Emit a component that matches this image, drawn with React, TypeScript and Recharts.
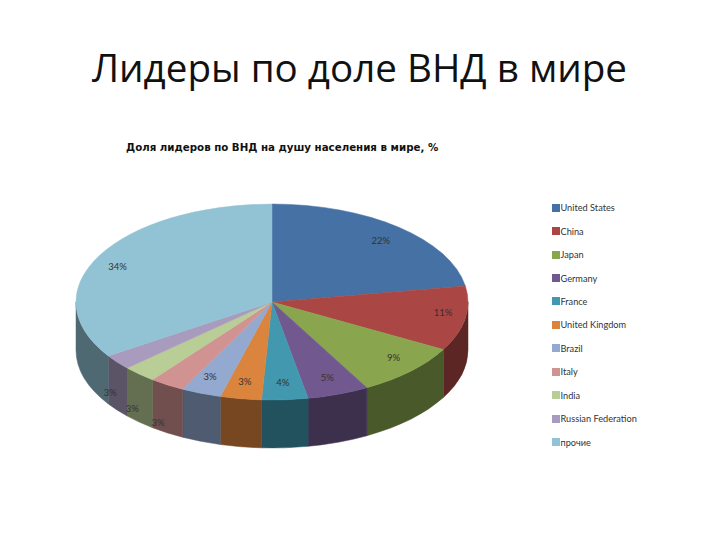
import { PieChart, Pie, Legend } from "recharts";

const categories = [
  "United States",
  "China",
  "Japan",
  "Germany",
  "France",
  "United Kingdom",
  "Brazil",
  "Italy",
  "India",
  "Russian Federation",
  "прочие",
];
const shares = [22.4, 10.7, 8.9, 5.1, 3.8, 3.4, 3.3, 2.9, 2.8, 2.5, 34.3];
const shareLabels = ["22%", "11%", "9%", "5%", "4%", "3%", "3%", "3%", "3%", "3%", "34%"];
const colors = [
  "#4571a5",
  "#aa4643",
  "#89a54e",
  "#71588f",
  "#4198af",
  "#db843d",
  "#93a9cf",
  "#d19392",
  "#b9cd96",
  "#a99bbd",
  "#92c3d4",
];

// label offset from the rim point of each slice, Excel left them all over the place
const labelNudge = [
  [-18, 13],
  [-22, -6],
  [-17, -14],
  [-11, -17],
  [-2, -17],
  [4, -17],
  [9, -17],
  [-9, 38],
  [-7, 34],
  [-7, 30],
  [18, 11],
];

const TILT = 0.5;
const DEPTH = 48;
const RAD = Math.PI / 180;

const chartData = categories.map((name, i) => ({
  name,
  value: shares[i],
  fill: colors[i],
}));

function darken(hex: string) {
  const n = parseInt(hex.slice(1), 16);
  const c = [n >> 16, (n >> 8) & 255, n & 255].map((v) => Math.round(v * 0.54));
  return `rgb(${c.join(",")})`;
}

function rim(cx: number, cy: number, r: number, deg: number) {
  return [cx + r * Math.cos(deg * RAD), cy - r * TILT * Math.sin(deg * RAD)];
}

// recharts gives circular sectors, squash them and add the wall for the 3d look
function Slice3D(props: any) {
  const { cx, cy, outerRadius: r, startAngle, endAngle, fill } = props;
  const hi = Math.max(startAngle, endAngle);
  const lo = Math.min(startAngle, endAngle);
  const ry = r * TILT;
  const [x0, y0] = rim(cx, cy, r, hi);
  const [x1, y1] = rim(cx, cy, r, lo);
  const large = hi - lo > 180 ? 1 : 0;
  const top = `M${cx},${cy} L${x0},${y0} A${r},${ry} 0 ${large} 1 ${x1},${y1} Z`;

  // only the front half of the rim (0..-180 deg, also -360..-540 after the wrap) shows a wall
  const spans: [number, number][] = [];
  for (const shift of [0, 360]) {
    const a = Math.min(hi + shift, 0);
    const b = Math.max(lo + shift, -180);
    if (a > b) spans.push([a, b]);
  }

  return (
    <g>
      {spans.map(([a, b], i) => {
        const [ax, ay] = rim(cx, cy, r, a);
        const [bx, by] = rim(cx, cy, r, b);
        return (
          <path
            key={i}
            d={`M${ax},${ay} A${r},${ry} 0 0 1 ${bx},${by} L${bx},${by + DEPTH} A${r},${ry} 0 0 0 ${ax},${ay + DEPTH} Z`}
            fill={darken(fill)}
            stroke={darken(fill)}
            strokeWidth={0.5}
          />
        );
      })}
      <path d={top} fill={fill} stroke={fill} strokeWidth={0.5} />
    </g>
  );
}

function SliceLabel(props: any) {
  const { cx, cy, outerRadius, midAngle, index } = props;
  const [x, y] = rim(cx, cy, outerRadius, midAngle);
  return (
    <text
      x={x + labelNudge[index][0]}
      y={y + labelNudge[index][1]}
      textAnchor="middle"
      dominantBaseline="central"
      fontFamily="Lato, Open Sans, sans-serif"
      fontSize={9.5}
      fill="#333"
    >
      {shareLabels[index]}
    </text>
  );
}

function LegendList({ payload }: any) {
  return (
    <div style={{ fontFamily: "Lato, Open Sans, sans-serif", fontSize: 9.2, color: "#333" }}>
      {(payload ?? []).map((item: any) => (
        <div key={item.value} style={{ display: "flex", alignItems: "center", height: 23.45 }}>
          <span style={{ width: 8, height: 8, background: item.color, flex: "none" }} />
          <span style={{ marginLeft: 0.5 }}>{item.value}</span>
        </div>
      ))}
    </div>
  );
}

export default function App() {
  return (
    <div style={{ position: "absolute", left: 0, top: 0, width: 720, height: 540, background: "#fff" }}>
      <div
        style={{
          position: "absolute",
          left: 0,
          top: 40,
          width: 719,
          textAlign: "center",
          fontFamily: "Open Sans, sans-serif",
          fontSize: 38.6,
          lineHeight: "54px",
          color: "#111",
          whiteSpace: "nowrap",
        }}
      >
        Лидеры по доле ВНД в мире
      </div>
      <div
        style={{
          position: "absolute",
          left: 126,
          top: 140,
          fontFamily: "DejaVu Sans, sans-serif",
          fontWeight: 700,
          fontSize: 10.25,
          lineHeight: "14px",
          color: "#111",
          whiteSpace: "nowrap",
        }}
      >
        Доля лидеров по ВНД на душу населения в мире, %
      </div>
      <PieChart width={720} height={540} margin={{ top: 0, right: 0, bottom: 0, left: 0 }}>
        <Pie
          data={chartData}
          dataKey="value"
          nameKey="name"
          cx={272}
          cy={302}
          outerRadius={196}
          startAngle={90}
          endAngle={-270}
          stroke="none"
          shape={Slice3D}
          label={SliceLabel}
          labelLine={false}
          isAnimationActive={false}
        />
        <Legend
          layout="vertical"
          itemSorter={null}
          content={LegendList}
          wrapperStyle={{ position: "absolute", left: 552, top: 196, width: 120, bottom: "auto" }}
        />
      </PieChart>
    </div>
  );
}
